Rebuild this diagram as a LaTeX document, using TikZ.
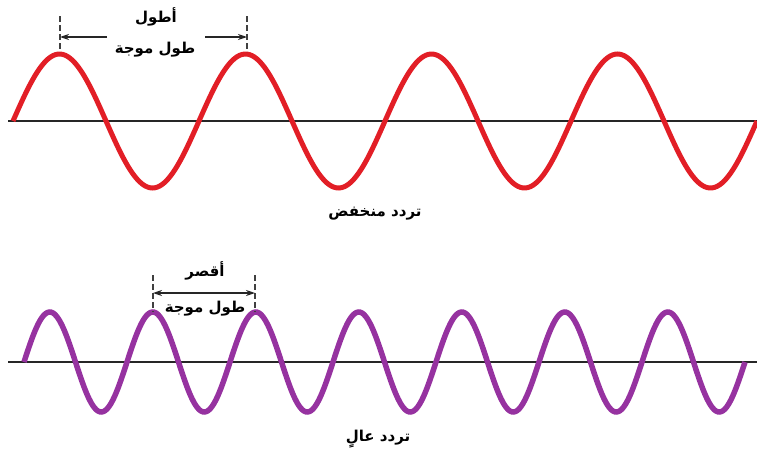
\documentclass[tikz,border=0pt]{standalone}
\usepackage{fontspec}
\usetikzlibrary{arrows.meta}
\TeXXeTstate=1
\newfontfamily\arabicfont[Script=Arabic]{DejaVu Sans}
\definecolor{wavered}{RGB}{226,30,38}
\definecolor{wavepurple}{RGB}{150,50,160}
\tikzset{
  axisline/.style={line width=2.2pt,black!85},
  redwave/.style={line width=5pt,wavered},
  purplewave/.style={line width=5.5pt,wavepurple},
  ticklinedash/.style={line width=1.2pt,black!75,dash pattern=on 6pt off 3pt},
  dimarrow/.style={line width=1.2pt,black!85,-{Stealth[length=9pt,width=6pt]}},
  dimboth/.style={line width=1.2pt,black!85,{Stealth[length=9pt,width=6pt]}-{Stealth[length=9pt,width=6pt]}},
  lbl/.style={font=\arabicfont\bfseries\fontsize{15}{17}\selectfont,inner sep=1pt}
}
\begin{document}
\begin{tikzpicture}[x=1pt,y=-1pt]
\useasboundingbox (0,0) rectangle (757,463);
% top wave
\draw[axisline] (8,121) -- (757,121);
\draw[redwave,domain=13:757,samples=300,smooth] plot (\x,{121-67*sin(((\x-13)/186)*360)});
\coordinate (t1a) at (60,16); \coordinate (t1b) at (60,52);
\coordinate (t2a) at (247,16); \coordinate (t2b) at (247,52);
\draw[ticklinedash] (t1a) -- (t1b);
\draw[ticklinedash] (t2a) -- (t2b);
\coordinate (al1) at (107,37); \coordinate (al2) at (60,37);
\coordinate (ar1) at (205,37); \coordinate (ar2) at (247,37);
\draw[dimarrow] (al1) -- (al2);
\draw[dimarrow] (ar1) -- (ar2);
\node[lbl] (longer) at (156,17) {\beginR أطول\endR};
\node[lbl] (wl1) at (155,50) {\beginR طول موجة\endR};
\node[lbl] (lowf) at (375,214) {\beginR تردد منخفض\endR};
% bottom wave
\draw[axisline] (8,362) -- (757,362);
\draw[purplewave,domain=24:745,samples=400,smooth] plot (\x,{362-50*sin(((\x-24)/103)*360)});
\coordinate (b1a) at (153,275); \coordinate (b1b) at (153,312);
\coordinate (b2a) at (255,275); \coordinate (b2b) at (255,312);
\draw[ticklinedash] (b1a) -- (b1b);
\draw[ticklinedash] (b2a) -- (b2b);
\coordinate (bl) at (153,293); \coordinate (br) at (255,293);
\draw[dimboth] (bl) -- (br);
\node[lbl] (shorter) at (205,271) {\beginR أقصر\endR};
\node[lbl] (wl2) at (205,309) {\beginR طول موجة\endR};
\node[lbl] (highf) at (378,439) {\beginR تردد عالٍ\endR};
\end{tikzpicture}
\end{document}
